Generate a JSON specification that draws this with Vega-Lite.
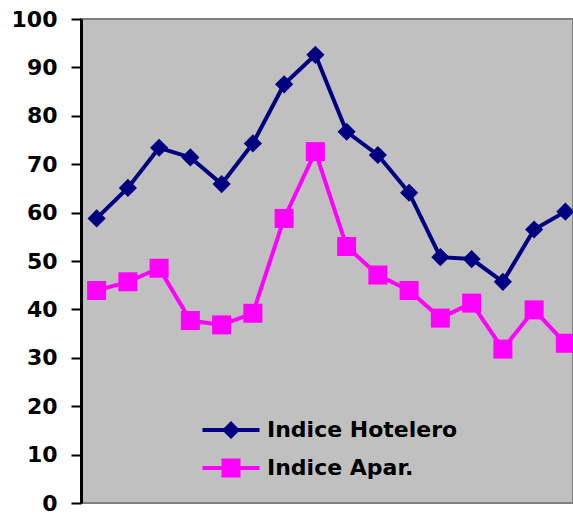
{
  "$schema": "https://vega.github.io/schema/vega-lite/v6.json",
  "autosize": "none",
  "width": 492,
  "height": 484,
  "padding": {"left": 81, "top": 19, "right": 0, "bottom": 11},
  "background": "white",
  "config": {
    "view": {"fill": "#C0C0C0", "stroke": "#808080", "strokeWidth": 2},
    "font": "DejaVu Sans"
  },
  "data": {
    "values": [
      {"i": 1, "series": "Indice Hotelero", "v": 58.8},
      {"i": 2, "series": "Indice Hotelero", "v": 65.1},
      {"i": 3, "series": "Indice Hotelero", "v": 73.4},
      {"i": 4, "series": "Indice Hotelero", "v": 71.4},
      {"i": 5, "series": "Indice Hotelero", "v": 65.9},
      {"i": 6, "series": "Indice Hotelero", "v": 74.3},
      {"i": 7, "series": "Indice Hotelero", "v": 86.5},
      {"i": 8, "series": "Indice Hotelero", "v": 92.6},
      {"i": 9, "series": "Indice Hotelero", "v": 76.7},
      {"i": 10, "series": "Indice Hotelero", "v": 71.9},
      {"i": 11, "series": "Indice Hotelero", "v": 64.1},
      {"i": 12, "series": "Indice Hotelero", "v": 50.8},
      {"i": 13, "series": "Indice Hotelero", "v": 50.4},
      {"i": 14, "series": "Indice Hotelero", "v": 45.7},
      {"i": 15, "series": "Indice Hotelero", "v": 56.5},
      {"i": 16, "series": "Indice Hotelero", "v": 60.2},
      {"i": 1, "series": "Indice Apar.", "v": 43.9},
      {"i": 2, "series": "Indice Apar.", "v": 45.7},
      {"i": 3, "series": "Indice Apar.", "v": 48.5},
      {"i": 4, "series": "Indice Apar.", "v": 37.7},
      {"i": 5, "series": "Indice Apar.", "v": 36.8},
      {"i": 6, "series": "Indice Apar.", "v": 39.2},
      {"i": 7, "series": "Indice Apar.", "v": 58.8},
      {"i": 8, "series": "Indice Apar.", "v": 72.6},
      {"i": 9, "series": "Indice Apar.", "v": 53.0},
      {"i": 10, "series": "Indice Apar.", "v": 47.1},
      {"i": 11, "series": "Indice Apar.", "v": 43.9},
      {"i": 12, "series": "Indice Apar.", "v": 38.2},
      {"i": 13, "series": "Indice Apar.", "v": 41.3},
      {"i": 14, "series": "Indice Apar.", "v": 31.8},
      {"i": 15, "series": "Indice Apar.", "v": 39.9},
      {"i": 16, "series": "Indice Apar.", "v": 33.0}
    ]
  },
  "encoding": {
    "x": {"field": "i", "type": "quantitative", "scale": {"domain": [0.5, 16.244], "nice": false, "zero": false}, "axis": null},
    "y": {
      "field": "v", "type": "quantitative",
      "scale": {"domain": [0, 100], "nice": false},
      "axis": {
        "title": null, "values": [0, 10, 20, 30, 40, 50, 60, 70, 80, 90, 100],
        "grid": false, "domainColor": "black", "domainWidth": 3,
        "tickColor": "black", "tickWidth": 2, "tickSize": 10,
        "labelFont": "DejaVu Sans", "labelFontSize": 22, "labelFontWeight": 700,
        "labelColor": "black", "labelPadding": 14
      }
    }
  },
  "layer": [
    {
      "transform": [{"filter": "datum.series == 'Indice Apar.'"}],
      "mark": {"type": "line", "strokeWidth": 4, "color": "#FF00FF"}
    },
    {
      "transform": [{"filter": "datum.series == 'Indice Apar.'"}],
      "mark": {"type": "point", "filled": true, "shape": "square", "size": 361, "opacity": 1, "color": "#FF00FF"}
    },
    {
      "transform": [{"filter": "datum.series == 'Indice Hotelero'"}],
      "mark": {"type": "line", "strokeWidth": 4, "color": "#000080"}
    },
    {
      "transform": [{"filter": "datum.series == 'Indice Hotelero'"}],
      "mark": {"type": "point", "filled": true, "shape": "diamond", "size": 330, "opacity": 1, "color": "#000080"}
    },
    {
      "mark": {"type": "point", "filled": true, "opacity": 0},
      "encoding": {
        "fill": {"field": "series", "type": "nominal",
          "scale": {"domain": ["Indice Hotelero", "Indice Apar."], "range": ["#000080", "#FF00FF"]},
          "legend": {"title": null, "orient": "none", "legendX": 139, "legendY": 400, "symbolOpacity": 1, "symbolSize": 400, "labelFont": "DejaVu Sans", "labelColor": "black", "labelFontSize": 22, "labelFontWeight": 700, "labelOffset": 25, "rowPadding": 13, "labelLimit": 0}},
        "shape": {"field": "series", "type": "nominal",
          "scale": {"domain": ["Indice Hotelero", "Indice Apar."],
            "range": ["M-2.85,-0.2H2.85V0.2H-2.85Z M0,-0.9L0.9,0L0,0.9L-0.9,0Z", "M-2.85,-0.2H2.85V0.2H-2.85Z M-0.95,-0.95H0.95V0.95H-0.95Z"]},
          "legend": {"title": null, "orient": "none", "legendX": 139, "legendY": 400, "symbolOpacity": 1, "symbolSize": 400, "labelFont": "DejaVu Sans", "labelColor": "black", "labelFontSize": 22, "labelFontWeight": 700, "labelOffset": 25, "rowPadding": 13, "labelLimit": 0}}
      }
    }
  ]
}
